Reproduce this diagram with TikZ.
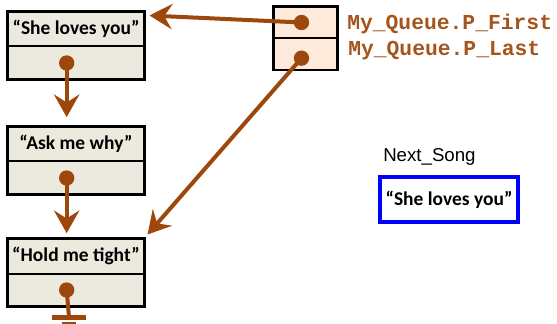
\documentclass[tikz,border=0pt]{standalone}
\usepackage{fontspec}
\setmainfont{Carlito}
\newfontfamily\labelfont{Liberation Sans}
\newfontfamily\codefont{Liberation Mono}
\usetikzlibrary{arrows.meta,positioning}
\definecolor{ptrbrown}{RGB}{156,72,12}
\definecolor{codebrown}{RGB}{166,84,28}
\definecolor{cellfill}{RGB}{236,233,222}
\definecolor{queuefill}{RGB}{253,234,218}

\begin{document}
\begin{tikzpicture}[x=0.75pt,y=0.75pt,
  txtcell/.style={draw,line width=0.75pt,fill=cellfill,minimum width=102pt,minimum height=25.5pt,inner sep=0pt,font=\bfseries\fontsize{14.6}{16}\selectfont},
  ptrcell/.style={draw,line width=0.75pt,fill=cellfill,minimum width=102pt,minimum height=24pt,inner sep=0pt},
  qcell/.style={draw,line width=0.75pt,fill=queuefill,minimum width=47.25pt,minimum height=23pt,inner sep=0pt},
  border/.style={line width=2pt},
  dot/.style={circle,fill=ptrbrown,minimum size=11.5pt,inner sep=0pt},
  ptr/.style={draw=ptrbrown,line width=3pt,-{Stealth[length=17pt,width=19pt,inset=6pt]}},
  code/.style={anchor=west,inner sep=0pt,text=codebrown,font=\codefont\bfseries\fontsize{16}{18}\selectfont}]
\useasboundingbox (0,0) rectangle (557,-324);
% song list
\node[txtcell] (t1) at (76,-29) {“She loves you\char"22};
\node[ptrcell,below=0pt of t1] (p1) {};
\draw[border] (t1.north west) rectangle (p1.south east);
\node[txtcell] (t2) at (76,-144) {“Ask me why”};
\node[ptrcell,below=0pt of t2] (p2) {};
\draw[border] (t2.north west) rectangle (p2.south east);
\node[txtcell] (t3) at (76,-256) {“Hold me tight”};
\node[ptrcell,below=0pt of t3] (p3) {};
\draw[border] (t3.north west) rectangle (p3.south east);
% queue record
\node[qcell] (first) at (305.5,-22.5) {};
\node[qcell,below=0pt of first] (last) {};
\draw[border] (first.north west) rectangle (last.south east);
\node[code] (firstlbl) at (347,-24) {My\_Queue.P\_First};
\node[code] (lastlbl) at (348,-51) {My\_Queue.P\_Last};
% pointers
\node[dot] (d1) at ([xshift=-7]p1.center) {};
\node[dot] (d2) at ([xshift=-7]p2.center) {};
\node[dot] (d3) at ([xshift=-7]p3.center) {};
\node[dot] (qf) at ([xshift=-3]first.center) {};
\node[dot] (ql) at ([xshift=-3,yshift=-3]last.center) {};
\draw[ptr,shorten >=7pt] (d1.center) -- (d1 |- t2.north);
\draw[ptr,shorten >=4pt] (d2.center) -- (d2 |- t3.north);
\coordinate (firsttip) at ([shift={(5,-4)}]t1.north east);
\coordinate (lasttip) at ([shift={(3,4)}]t3.north east);
\draw[ptr] (qf.center) -- (firsttip);
\draw[ptr] (ql.center) -- (lasttip);
% null pointer
\coordinate (gnd) at (69,-317);
\draw[draw=ptrbrown,line width=3pt] (d3.center) -- (gnd);
\draw[draw=ptrbrown,line width=3.75pt] ([xshift=-13]gnd) -- ([xshift=13]gnd);
\draw[draw=ptrbrown,line width=3.75pt] ([shift={(-7,-7.5)}]gnd) -- ([shift={(7,-7.5)}]gnd);
% current song
\node[anchor=west,inner sep=0pt,font=\labelfont\fontsize{14}{16}\selectfont] (songlbl) at (383,-157) {Next\_Song};
\node[draw=blue,line width=3pt,minimum width=103.5pt,minimum height=33.75pt,inner sep=0pt,font=\bfseries\fontsize{14.6}{16}\selectfont] (song) at (449,-199.5) {“She loves you”};
\end{tikzpicture}
\end{document}
